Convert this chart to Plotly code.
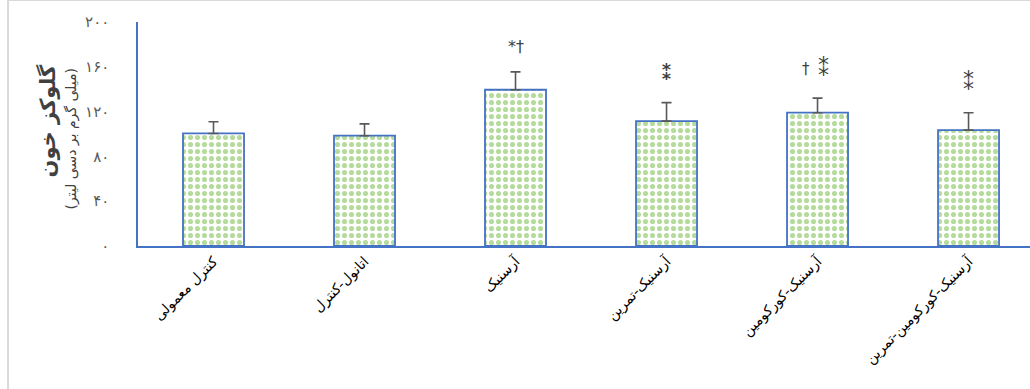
import plotly.graph_objects as go

# گروه‌ها و میانگین گلوکز خون (میلی گرم بر دسی لیتر)
groups = ["کنترل معمولی", "اتانول-کنترل", "آرسنیک", "آرسنیک-تمرین",
          "آرسنیک-کورکومین", "آرسنیک-کورکومین-تمرین"]
glucose = [100.5, 98.5, 139.5, 111.5, 119, 103.5]
glucose_sd = [10.5, 10.5, 16, 16.5, 13, 15.5]
# significance symbols per group
star_marks = ["", "", "*†", "<b>⁑</b>", "⁑", "⁑"]
dagger_marks = ["", "", "", "", "†", ""]

y_ticks = [0, 40, 80, 120, 160, 200]
y_tick_text = ["۰", "۴۰", "۸۰", "۱۲۰", "۱۶۰", "۲۰۰"]

AXIS_BLUE = "#4472C4"
FONT = "DejaVu Sans"
MARK_COLOR = "#404040"

fig = go.Figure()
fig.add_trace(go.Bar(
    x=groups,
    y=glucose,
    width=0.404,
    marker=dict(
        color="white",
        line=dict(color=AXIS_BLUE, width=1.8),
        pattern=dict(shape=".", fgcolor="#6CB83A", bgcolor="white",
                     size=7, solidity=0.42),
    ),
    error_y=dict(type="data", symmetric=False, array=glucose_sd,
                 arrayminus=[0] * len(glucose_sd),
                 color="#595959", thickness=1.6, width=5),
    showlegend=False,
))

# significance markers above each error bar
for i, (g, v, s) in enumerate(zip(groups, glucose, glucose_sd)):
    if star_marks[i]:
        single_line = star_marks[i] == "*†"
        fig.add_annotation(x=g, y=v + s, text=star_marks[i], showarrow=False,
                           yanchor="middle",
                           yshift=25 if single_line else 30,
                           xshift=6 if dagger_marks[i] else 0,
                           font=dict(family=FONT, size=16 if single_line else 22,
                                     color=MARK_COLOR))
    if dagger_marks[i]:
        fig.add_annotation(x=g, y=v + s, text=dagger_marks[i], showarrow=False,
                           yanchor="middle", yshift=29, xshift=-12,
                           font=dict(family=FONT, size=15, color=MARK_COLOR))

# axis titles
fig.add_annotation(xref="paper", yref="paper", x=-0.101, y=0.56,
                   xanchor="center", yanchor="middle",
                   text="<b>گلوکز خون</b>", textangle=-90, showarrow=False,
                   font=dict(family=FONT, size=21, color="#404040"))
fig.add_annotation(xref="paper", yref="paper", x=-0.075, y=0.48,
                   xanchor="center", yanchor="middle",
                   text="(میلی گرم بر دسی لیتر)", textangle=-90, showarrow=False,
                   font=dict(family=FONT, size=14, color="#404040"))

# chart frame (left and top edges)
fig.add_shape(type="line", xref="paper", yref="paper",
              x0=-0.1457, x1=-0.1457, y0=-0.7, y1=1.0982,
              line=dict(color="#D9D9D9", width=2))
fig.add_shape(type="line", xref="paper", yref="paper",
              x0=-0.1457, x1=1.05, y0=1.0982, y1=1.0982,
              line=dict(color="#D9D9D9", width=2))

fig.update_layout(
    width=1030, height=389,
    margin=dict(l=138, r=0, t=22, b=143),
    paper_bgcolor="white", plot_bgcolor="white",
    font=dict(family=FONT),
    xaxis=dict(
        range=[-0.5, 5.407],
        showline=True, linecolor=AXIS_BLUE, linewidth=1.5,
        showgrid=False, zeroline=False,
        tickangle=-45,
        tickfont=dict(family=FONT, size=14, color="black"),
    ),
    yaxis=dict(
        range=[0, 200],
        tickvals=y_ticks, ticktext=y_tick_text,
        showline=True, linecolor=AXIS_BLUE, linewidth=1.5,
        showgrid=False, zeroline=False,
        ticks="", ticklabelstandoff=24,
        tickfont=dict(family=FONT, size=15, color="#595959"),
    ),
)

fig.write_html("out.html")
